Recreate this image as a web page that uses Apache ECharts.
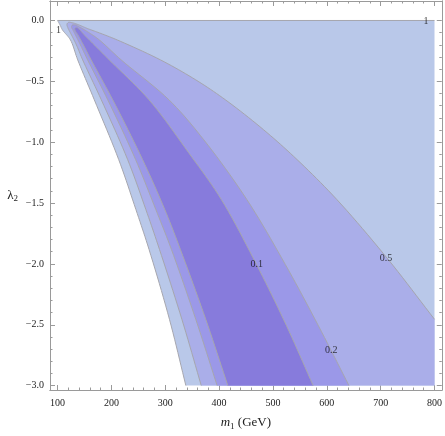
<!DOCTYPE html>
<html>
<head>
<meta charset="utf-8">
<script src="https://cdn.jsdelivr.net/npm/echarts@6/dist/echarts.min.js"></script>
<style>
  html, body { margin: 0; padding: 0; background: #fff; }
  #chart { width: 445px; height: 436px; }
</style>
</head>
<body>
<div id="chart"></div>
<script>
// contour curves, [m1 (GeV), lambda2]
const contour1 = [
  [100, 0], [104.6, -0.037], [109.2, -0.078], [124.0, -0.160], [137.5, -0.324],
  [168.3, -0.652], [213.6, -1.143], [245.5, -1.553], [269.9, -1.881], [307.8, -2.455], [338.3, -3.0]
];
// 0.5 contour: left branch (bottom -> tip) then right branch (tip -> right edge)
const contour05 = [
  [366.9, -3.0], [330.9, -2.455], [289.3, -1.881], [264.0, -1.553], [230.2, -1.143],
  [181.3, -0.652], [146.7, -0.324], [135.1, -0.201], [125.9, -0.119], [119.4, -0.062],
  [117.5, -0.033], [120.3, -0.016], [127.7, -0.019], [138.8, -0.035], [155.4, -0.066],
  [177.6, -0.102], [210.8, -0.160], [291.2, -0.324], [356.7, -0.488], [411.8, -0.652],
  [482.7, -0.898], [544.8, -1.143], [618.6, -1.471], [713.9, -1.963], [800, -2.455]
];
// 0.2 contour
const contour02 = [
  [396.4, -3.0], [356.7, -2.455], [311.5, -1.881], [282.5, -1.553], [245.0, -1.143],
  [193.3, -0.652], [155.9, -0.324], [142.5, -0.201], [133.2, -0.119], [128.6, -0.078],
  [125.9, -0.053], [127.7, -0.037], [133.2, -0.037], [140.6, -0.053], [159.1, -0.102],
  [177.6, -0.160], [218.2, -0.324], [306.9, -0.652], [371.5, -0.980], [451.5, -1.471],
  [522.9, -2.004], [583.9, -2.504], [641.2, -3.0]
];
// 0.1 contour
const contour01 = [
  [416.2, -3.0], [375.2, -2.455], [328.1, -1.881], [299.1, -1.553], [257.9, -1.143],
  [202.5, -0.652], [162.4, -0.324], [148.0, -0.201], [137.9, -0.119], [133.2, -0.086],
  [132.3, -0.066], [135.1, -0.057], [140.6, -0.074], [149.9, -0.119], [172.0, -0.217],
  [196.0, -0.324], [269.9, -0.652], [343.4, -1.086], [404.2, -1.471], [469.4, -2.004],
  [524.8, -2.504], [574.7, -3.0]
];
const contourLabels = [
  [101.8, -0.078, '1'], [784, -0.01, '1'], [469.9, -2.0, '0.1'],
  [608.5, -2.709, '0.2'], [710, -1.952, '0.5']
];
const xMajor = [100, 200, 300, 400, 500, 600, 700, 800];
const xMinor = [];
for (let v = 100; v <= 800; v += 20) if (v % 100) xMinor.push(v);
const yMajor = [0, -0.5, -1, -1.5, -2, -2.5, -3];
const yMinor = [];
for (let k = 0; k >= -30; k--) if (k % 5) yMinor.push(k / 10);

// each region: smooth contour part + straight closing corners
const regions = [
  { curve: contour1, corners: [[800, -3], [800, 0]] },
  { curve: contour05, corners: [[800, -3]] },
  { curve: contour02, corners: [] },
  { curve: contour01, corners: [] }
];
const contourLines = [
  { head: [[800, 0]], curve: contour1 },
  { head: [], curve: contour05 },
  { head: [], curve: contour02 },
  { head: [], curve: contour01 }
];
const fills = ['#b9c8e9', '#aaaee9', '#9b98e8', '#877bdc'];
const lineColor = '#a6a6ae';
const font = 'Liberation Serif';

// centripetal catmull-rom through pixel points, only for drawing
function smoothPx(pts, steps) {
  const n = pts.length;
  if (n < 3) return pts.slice();
  const out = [pts[0]];
  const d = (a, b) => Math.max(Math.pow(Math.hypot(b[0] - a[0], b[1] - a[1]), 0.5), 1e-4);
  const lerp = (a, b, ta, tb, t) => {
    const k = (t - ta) / (tb - ta);
    return [a[0] + (b[0] - a[0]) * k, a[1] + (b[1] - a[1]) * k];
  };
  for (let i = 0; i < n - 1; i++) {
    const p1 = pts[i], p2 = pts[i + 1];
    const p0 = i > 0 ? pts[i - 1] : [2 * p1[0] - p2[0], 2 * p1[1] - p2[1]];
    const p3 = i < n - 2 ? pts[i + 2] : [2 * p2[0] - p1[0], 2 * p2[1] - p1[1]];
    const t0 = 0, t1 = t0 + d(p0, p1), t2 = t1 + d(p1, p2), t3 = t2 + d(p2, p3);
    for (let s = 1; s <= steps; s++) {
      const t = t1 + (t2 - t1) * s / steps;
      const a1 = lerp(p0, p1, t0, t1, t), a2 = lerp(p1, p2, t1, t2, t), a3 = lerp(p2, p3, t2, t3, t);
      const b1 = lerp(a1, a2, t0, t2, t), b2 = lerp(a2, a3, t1, t3, t);
      out.push(lerp(b1, b2, t1, t2, t));
    }
  }
  return out;
}

const chart = echarts.init(document.getElementById('chart'));

const xRange = { min: 86, max: 813.5 };
const yRange = { min: -3.036, max: 0.16 };
const frame = { lineStyle: { color: '#9a9a9a', width: 1 } };

function xAxis(pos, ticks, len, labels) {
  return {
    type: 'value', position: pos, ...xRange,
    axisLine: { show: true, onZero: false, ...frame },
    axisTick: { show: true, inside: true, length: len, customValues: ticks, lineStyle: frame.lineStyle },
    axisLabel: labels ? {
      show: true, customValues: ticks, margin: 8, color: '#222',
      fontFamily: font, fontSize: 10
    } : { show: false },
    splitLine: { show: false }
  };
}
function yAxis(pos, ticks, len, labels) {
  return {
    type: 'value', position: pos, ...yRange,
    axisLine: { show: true, onZero: false, ...frame },
    axisTick: { show: true, inside: true, length: len, customValues: ticks, lineStyle: frame.lineStyle },
    axisLabel: labels ? {
      show: true, customValues: ticks, margin: 6, color: '#222',
      fontFamily: font, fontSize: 10,
      formatter: v => v.toFixed(1).replace('-', '\u2212')
    } : { show: false },
    splitLine: { show: false }
  };
}

const xs = [
  xAxis('bottom', xMajor, 5, true), xAxis('bottom', xMinor, 2.5, false),
  xAxis('top', xMajor, 5, false), xAxis('top', xMinor, 2.5, false)
];
xs[0].name = '{i|m}{s|1} (GeV)';
xs[0].nameLocation = 'middle';
xs[0].nameGap = 25;
xs[0].nameTextStyle = {
  fontFamily: font, fontSize: 13, color: '#222',
  rich: {
    i: { fontFamily: font, fontSize: 13, fontStyle: 'italic', color: '#222' },
    s: { fontFamily: font, fontSize: 9, color: '#222', padding: [7, 0, 0, 0] }
  }
};
const ys = [
  yAxis('left', yMajor, 5, true), yAxis('left', yMinor, 2.5, false),
  yAxis('right', yMajor, 5, false), yAxis('right', yMinor, 2.5, false)
];
ys[0].name = '{i|λ}{s|2}';
ys[0].nameLocation = 'middle';
ys[0].nameGap = 32;
ys[0].nameRotate = 0;
ys[0].nameTextStyle = {
  fontFamily: font, fontSize: 13, color: '#222',
  rich: {
    i: { fontFamily: font, fontSize: 13, color: '#222' },
    s: { fontFamily: font, fontSize: 9, color: '#222', padding: [7, 0, 0, 0] }
  }
};

chart.setOption({
  animation: false,
  grid: { left: 50, right: 1, top: 1, bottom: 45 },
  xAxis: xs,
  yAxis: ys,
  series: [
    {
      type: 'custom',
      silent: true,
      z: 2,
      data: regions.map((r, i) => [i]),
      renderItem: (params, api) => {
        const r = regions[params.dataIndex];
        const pts = smoothPx(r.curve.map(p => api.coord(p)), 10)
          .concat(r.corners.map(p => api.coord(p)));
        return {
          type: 'polygon',
          shape: { points: pts },
          style: { fill: fills[params.dataIndex], stroke: null }
        };
      }
    },
    {
      type: 'custom',
      silent: true,
      z: 3,
      data: contourLines.map((c, i) => [i]),
      renderItem: (params, api) => {
        const c = contourLines[params.dataIndex];
        const pts = c.head.map(p => api.coord(p))
          .concat(smoothPx(c.curve.map(p => api.coord(p)), 10));
        return {
          type: 'polyline',
          shape: { points: pts },
          style: { fill: null, stroke: lineColor, lineWidth: 1 }
        };
      }
    },
    {
      type: 'scatter',
      silent: true,
      z: 4,
      symbolSize: 0,
      data: contourLabels,
      label: {
        show: true, position: 'inside', color: '#111',
        fontFamily: font, fontSize: 10,
        formatter: p => p.data[2]
      }
    }
  ]
});
</script>
</body>
</html>
